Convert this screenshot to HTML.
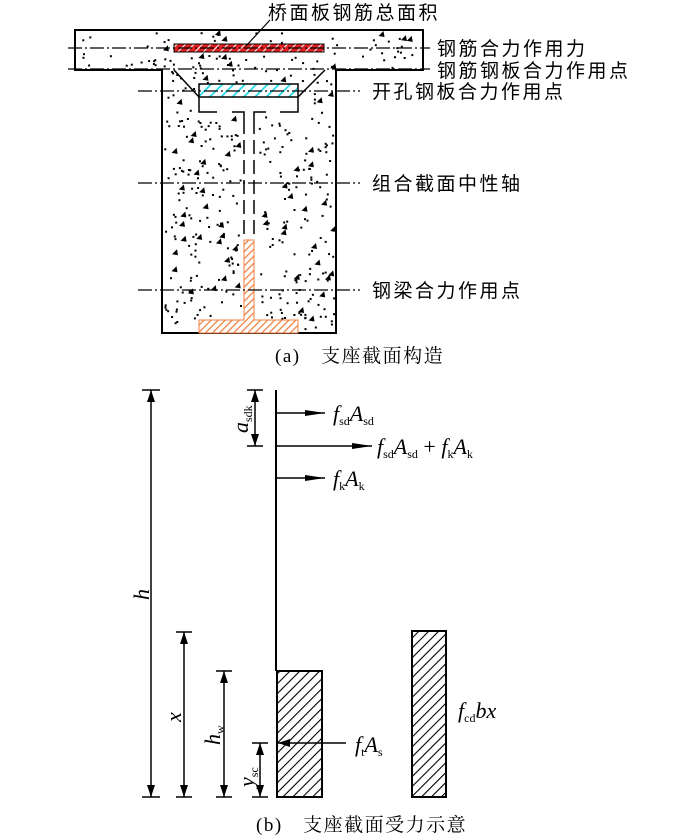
<!DOCTYPE html>
<html><head><meta charset="utf-8"><style>
html,body{margin:0;padding:0;background:#fff;width:700px;height:837px;overflow:hidden}
svg{display:block}
.cn{font-family:"Liberation Serif","Noto Sans CJK SC",sans-serif;font-size:19px;letter-spacing:2.5px;fill:#000}
.cap{font-family:"Liberation Serif","Noto Serif CJK SC","Noto Sans CJK SC",serif;font-size:19px;letter-spacing:1.5px;fill:#000}
.it{font-family:"Liberation Serif",serif;font-style:italic;font-size:22px}
.sb{font-family:"Liberation Serif",serif;font-style:normal;font-size:12px}
</style></head><body>
<svg id="s" width="700" height="837" viewBox="0 0 700 837" xmlns="http://www.w3.org/2000/svg">
<defs>
<pattern id="hr" width="6" height="6" patternUnits="userSpaceOnUse" patternTransform="rotate(45)"><rect width="6" height="6" fill="#e02020"/><line x1="0" y1="0" x2="0" y2="6" stroke="#fff" stroke-width="2"/></pattern>
<pattern id="hc" width="8" height="8" patternUnits="userSpaceOnUse" patternTransform="rotate(45)"><rect width="8" height="8" fill="#fff"/><line x1="0" y1="0" x2="0" y2="8" stroke="#20d8e8" stroke-width="3.5"/></pattern>
<pattern id="ho" width="5" height="5" patternUnits="userSpaceOnUse" patternTransform="rotate(45)"><rect width="5" height="5" fill="#fff"/><line x1="0" y1="0" x2="0" y2="5" stroke="#f08040" stroke-width="2.5"/></pattern>
<pattern id="hk" width="7" height="7" patternUnits="userSpaceOnUse" patternTransform="rotate(45)"><line x1="0" y1="0" x2="0" y2="7" stroke="#000" stroke-width="2.2"/></pattern>
<marker id="ar" markerWidth="20" markerHeight="8" refX="20" refY="4" orient="auto" markerUnits="userSpaceOnUse"><path d="M0,1 L20,4 L0,7 Z" fill="#000"/></marker>
<marker id="as" markerWidth="12" markerHeight="10" refX="12" refY="5" orient="auto-start-reverse" markerUnits="userSpaceOnUse"><path d="M0,1 L12,5 L0,9 Z" fill="#000"/></marker>
</defs>
<g id="dots"></g>
<path d="M75,30 H423 V70 H336 V333 H162 V70 H75 Z" fill="none" stroke="#000" stroke-width="2"/>
<path d="M174,70 L199,97 M325,70 L298,97" stroke="#000" stroke-width="1.5" fill="none"/>
<rect x="174" y="44" width="150" height="8" fill="url(#hr)" stroke="#000" stroke-width="1"/>
<rect x="199" y="84" width="99" height="13" fill="url(#hc)" stroke="#000" stroke-width="1.5"/>
<path d="M199,97 V112 H217 M232,112 H244 V120 M254,120 V112 H266 M280,112 H298 V97" stroke="#000" stroke-width="1.5" fill="none"/>
<path d="M244,120 V240 M254,120 V240" stroke="#000" stroke-width="1.5" stroke-dasharray="14,6" fill="none"/>
<path d="M244,240 H254 V320 H298 V333 H199 V320 H244 Z" fill="url(#ho)" stroke="#f08040" stroke-width="1"/>
<g stroke="#000" stroke-width="1.2" stroke-dasharray="14,3,2,3">
<line x1="68" y1="48" x2="430" y2="48"/><line x1="68" y1="69" x2="430" y2="69"/>
<line x1="138" y1="91" x2="360" y2="91"/><line x1="138" y1="183" x2="360" y2="183"/><line x1="138" y1="290" x2="360" y2="290"/>
</g>
<line x1="270" y1="20" x2="246" y2="46" stroke="#000" stroke-width="1.2"/>
<text class="cn" x="268" y="19">桥面板钢筋总面积</text>
<text class="cn" x="437" y="55">钢筋合力作用力</text>
<text class="cn" x="437" y="77">钢筋钢板合力作用点</text>
<text class="cn" x="372" y="98">开孔钢板合力作用点</text>
<text class="cn" x="372" y="190">组合截面中性轴</text>
<text class="cn" x="372" y="297">钢梁合力作用点</text>
<text class="cap" x="275" y="362">(a)　支座截面构造</text>
<line x1="276" y1="390" x2="276" y2="671" stroke="#000" stroke-width="2"/>
<g stroke="#000" stroke-width="1.5">
<line x1="276" y1="413" x2="325" y2="413" marker-end="url(#ar)"/>
<line x1="276" y1="446" x2="372" y2="446" marker-end="url(#ar)"/>
<line x1="276" y1="478" x2="325" y2="478" marker-end="url(#ar)"/>
<line x1="142" y1="390" x2="160" y2="390"/><line x1="151" y1="390" x2="151" y2="797" marker-start="url(#as)" marker-end="url(#as)"/>
<line x1="142" y1="797" x2="160" y2="797"/>
<line x1="247" y1="390" x2="263" y2="390"/><line x1="247" y1="446" x2="263" y2="446"/>
<line x1="255" y1="390" x2="255" y2="446" marker-start="url(#as)" marker-end="url(#as)"/>
<line x1="176" y1="632" x2="192" y2="632"/><line x1="176" y1="797" x2="192" y2="797"/>
<line x1="184" y1="632" x2="184" y2="797" marker-start="url(#as)" marker-end="url(#as)"/>
<line x1="216" y1="671" x2="232" y2="671"/><line x1="216" y1="797" x2="232" y2="797"/>
<line x1="224" y1="671" x2="224" y2="797" marker-start="url(#as)" marker-end="url(#as)"/>
<line x1="252" y1="743" x2="268" y2="743"/><line x1="252" y1="797" x2="268" y2="797"/>
<line x1="260" y1="743" x2="260" y2="797" marker-start="url(#as)" marker-end="url(#as)"/>
</g>
<rect x="277" y="671" width="45" height="126" fill="url(#hk)" stroke="#000" stroke-width="2"/>
<rect x="412" y="631" width="34" height="166" fill="url(#hk)" stroke="#000" stroke-width="2"/>
<line x1="346" y1="743" x2="278" y2="743" stroke="#000" stroke-width="1.5" marker-end="url(#as)"/>
<text class="it" x="333" y="421">f<tspan class="sb" dy="4">sd</tspan><tspan dy="-4">A</tspan><tspan class="sb" dy="4">sd</tspan></text>
<text class="it" x="377" y="454">f<tspan class="sb" dy="4">sd</tspan><tspan dy="-4">A</tspan><tspan class="sb" dy="4">sd</tspan><tspan dy="-4" style="font-style:normal"> + </tspan>f<tspan class="sb" dy="4">k</tspan><tspan dy="-4">A</tspan><tspan class="sb" dy="4">k</tspan></text>
<text class="it" x="333" y="486">f<tspan class="sb" dy="4">k</tspan><tspan dy="-4">A</tspan><tspan class="sb" dy="4">k</tspan></text>
<text class="it" x="355" y="752">f<tspan class="sb" dy="4">t</tspan><tspan dy="-4">A</tspan><tspan class="sb" dy="4">s</tspan></text>
<text class="it" x="458" y="718">f<tspan class="sb" dy="4">cd</tspan><tspan dy="-4">bx</tspan></text>
<text class="it" transform="translate(248,433) rotate(-90)">a<tspan class="sb" dy="4">sdk</tspan></text>
<text class="it" transform="translate(149,600) rotate(-90)">h</text>
<text class="it" transform="translate(181,722) rotate(-90)">x</text>
<text class="it" transform="translate(220,745) rotate(-90)">h<tspan class="sb" dy="4">w</tspan></text>
<text class="it" transform="translate(254,787) rotate(-90)">y<tspan class="sb" dy="4">sc</tspan></text>
<text class="cap" x="256" y="831">(b)　支座截面受力示意</text>
</svg>
<script>
(function(){
var g=document.getElementById('dots'),s=12345;function r(){s=(s*16807)%2147483647;return s/2147483647;}
function inside(x,y){if(y>32&&y<68&&x>77&&x<421)return true;if(y>=68&&y<331&&x>164&&x<334)return true;return false;}
var h='';for(var i=0;i<1000;i++){var x=75+r()*350,y=30+r()*305;if(!inside(x,y))continue;
if(x>196&&x<300&&y>82&&y<114)continue;if(x>240&&x<258&&y>110&&y<335)continue;if(x>196&&x<300&&y>318)continue;if(x>172&&x<326&&y>42&&y<54)continue;
if(r()<0.15){h+='<path d="M'+x.toFixed(1)+','+y.toFixed(1)+' l5,-5 l1,6 z" fill="#000"/>';}else{h+='<rect x="'+x.toFixed(1)+'" y="'+y.toFixed(1)+'" width="2" height="2" fill="#000"/>';}}
g.innerHTML=h;})();
</script>
</body></html>
